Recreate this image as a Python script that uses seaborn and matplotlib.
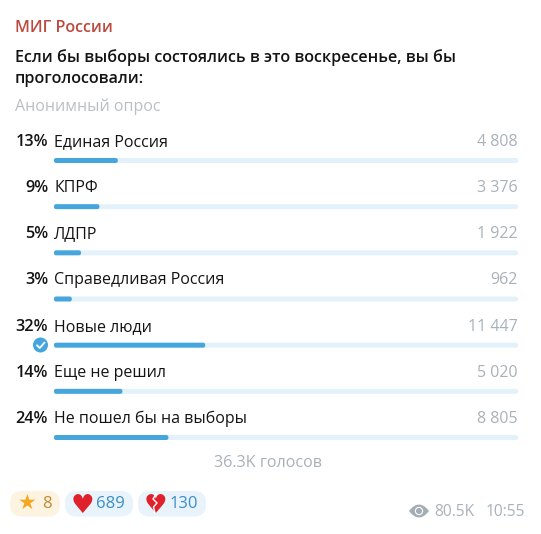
import numpy as np
import pandas as pd
import matplotlib
matplotlib.use("Agg")
import matplotlib.pyplot as plt
import seaborn as sns
from matplotlib.patches import FancyBboxPatch, Circle, PathPatch
from matplotlib.path import Path

# poll data
options = ["Единая Россия", "КПРФ", "ЛДПР", "Справедливая Россия", "Новые люди", "Еще не решил", "Не пошел бы на выборы"]
percents = [13, 9, 5, 3, 32, 14, 24]
vote_labels = ["4 808", "3 376", "1 922", "962", "11 447", "5 020", "8 805"]
full_track = [100, 100, 100, 100, 100, 100, 100]

channel = "МИГ России"
question = "Если бы выборы состоялись в это воскресенье, вы бы\nпроголосовали:"
poll_type = "Анонимный опрос"
total_label = "36.3K голосов"
reactions = ["8", "689", "130"]
views = "80.5K"
time_label = "10:55"

W, H = 541, 534
BLUE = "#45a5dd"
TRACK = "#e3f1fa"
GRAY = "#a9b2b9"
INK = "#141414"

sns.set_theme(style="white")
plt.rcParams["font.family"] = ["Open Sans", "DejaVu Sans"]

fig = plt.figure(figsize=(W / 100, H / 100), dpi=100, facecolor="white")

# full figure layer in pixel coordinates for header and footer
bg = fig.add_axes([0, 0, 1, 1])
bg.set_xlim(0, W)
bg.set_ylim(H, 0)
bg.axis("off")

# bars layer: the round edge adds 2 px each side, so the axes run 56-516 for a 54-518 track
top, bottom = 137.4, 460.6
ax = fig.add_axes([56 / W, 1 - bottom / H, (516 - 56) / W, (bottom - top) / H])
df = pd.DataFrame({"option": options, "percent": percents, "track": full_track})
sns.barplot(data=df, y="option", x="track", color=TRACK, saturation=1, width=0.02, ax=ax)
sns.barplot(data=df, y="option", x="percent", color=BLUE, saturation=1, width=0.02, ax=ax)
for bar, col in zip(ax.patches, [TRACK] * 7 + [BLUE] * 7):
    bar.set_edgecolor(col)
    bar.set_linewidth(2.9)
    bar.set_joinstyle("round")
    bar.set_clip_on(False)
    bar.set_snap(False)
ax.set_xlim(0, 100)
ax.set_ylim(6.5, -0.5)
ax.axis("off")
ax.patch.set_alpha(0)

for i, opt in enumerate(options):
    ax.annotate(opt, (0, i), xytext=(-2, 18.5), textcoords="offset pixels", fontsize=11.5,
                color=INK, va="center", ha="left", annotation_clip=False)
    ax.annotate(f"{percents[i]}%", (0, i), xytext=(-8, 18.5), textcoords="offset pixels", fontsize=11.7,
                color=INK, va="center", ha="right", fontweight="semibold", annotation_clip=False)
    ax.annotate(vote_labels[i], (100, i), xytext=(2, 18.5), textcoords="offset pixels", fontsize=11.5,
                color=GRAY, va="center", ha="right", annotation_clip=False)

# header
bg.text(15, 28, channel, fontsize=11.6, color="#bd4a3f", fontweight="semibold", va="center")
bg.text(15, 68, question, fontsize=11.58, color=INK, fontweight="semibold", va="center", linespacing=1.42)
bg.text(15, 107, poll_type, fontsize=11.5, color="#b9c0c5", va="center")
bg.text(268.5, 463, total_label, fontsize=11.6, color=GRAY, va="center", ha="center")

# check mark on the picked option
bg.add_patch(Circle((40.5, 345), 7.5, color=BLUE, lw=0))
bg.plot([37, 39.8, 44.5], [345.3, 348, 342.5], color="white", lw=1.3)

# reaction pills
for x0, x1, col in [(10, 60, "#fdf3e1"), (65, 133, "#e8f3fb"), (138, 206, "#e8f3fb")]:
    bg.add_patch(FancyBboxPatch((x0 + 12, 491 + 12), x1 - x0 - 24, 1.5, boxstyle="round,pad=12,rounding_size=12",
                                fc=col, ec="none"))
bg.text(27, 503, "★", family="DejaVu Sans", fontsize=15, color="#f5a623", ha="center", va="center")
bg.text(47, 504, reactions[0], fontsize=12, color="#c08a35", ha="center", va="center")
bg.text(82, 506, "♥", family="DejaVu Sans", fontsize=19, color="#e0212b", ha="center", va="center")
bg.text(110.5, 504, reactions[1], fontsize=12, color="#3a8fc7", ha="center", va="center")
bg.text(155, 506, "♥", family="DejaVu Sans", fontsize=19, color="#e0212b", ha="center", va="center")
bg.plot([156, 153, 157, 153.5, 155], [494, 499, 503, 507, 513], color="white", lw=1, zorder=5)
bg.text(184, 504, reactions[2], fontsize=12, color="#3a8fc7", ha="center", va="center")

# views and time
eye = Path([(409, 511), (419, 498), (429, 511), (419, 524), (409, 511)],
           [Path.MOVETO, Path.CURVE3, Path.CURVE3, Path.CURVE3, Path.CURVE3])
bg.add_patch(PathPatch(eye, fc="#a3adb5", ec="none"))
bg.add_patch(Circle((419, 511), 3.6, fc="#a3adb5", ec="white", lw=0.8))
bg.text(434, 512, views, fontsize=11.2, color=GRAY, va="center")
bg.text(525, 512, time_label, fontsize=11.2, color=GRAY, va="center", ha="right")

fig.savefig("out.png", dpi=100)
